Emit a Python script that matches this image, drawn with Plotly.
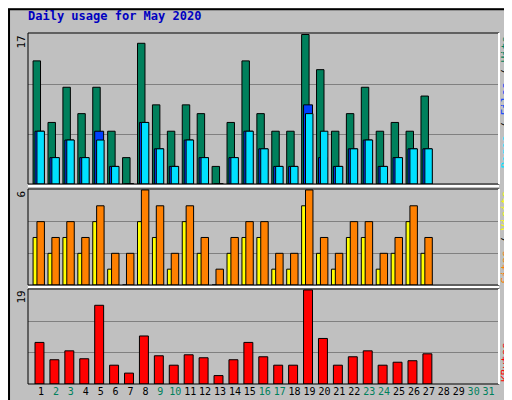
import plotly.graph_objects as go

days = list(range(1, 32))
hits   = [14,7,11,8,11,6,3,16,9,6,9,8,2,7,14,8,6,6,17,13,6,8,11,6,7,6,10]
files  = [6,3,5,3,6,2,0,7,4,2,5,3,0,3,6,4,2,2,9,3,2,4,5,2,3,4,4]
pages  = [6,3,5,3,5,2,0,7,4,2,5,3,0,3,6,4,2,2,8,6,2,4,5,2,3,4,4]
sites  = [3,2,3,2,4,1,0,4,3,1,4,2,0,2,3,3,1,1,5,2,1,3,3,1,2,4,2]
visits = [4,3,4,3,5,2,2,6,5,2,5,3,1,3,4,4,2,2,6,3,2,4,4,2,3,5,3]
kbytes = [8.4,4.9,6.7,5.1,15.9,3.8,2.2,9.7,5.7,3.8,5.9,5.3,1.7,4.9,8.4,5.5,3.8,3.8,19,9.2,3.8,5.5,6.7,3.8,4.4,4.7,6.1]
weekend = [2,3,9,10,16,17,23,24,30,31]
max_top, max_mid, max_bot = 17, 6, 19

fig = go.Figure()
xd = days[:len(hits)]
line = dict(color="black", width=1)
def bar(y, color, off, w, ax):
    fig.add_trace(go.Bar(x=xd, y=y, offset=off, width=w, marker=dict(color=color, line=line),
                         xaxis="x", yaxis=ax, showlegend=False, hoverinfo="skip"))
bar(hits, "#00805C", -0.53, 0.5, "y")
bar(files, "#0040FF", -0.4, 0.6, "y")
bar(pages, "#00E0FF", -0.27, 0.5, "y")
bar(sites, "#FFFF00", -0.53, 0.33, "y2")
bar(visits, "#FF8000", -0.27, 0.5, "y2")
bar(kbytes, "#FF0000", -0.4, 0.6, "y3")

ticktext = [f"<span style='color:{'#00805C' if d in weekend else 'black'}'>{d}</span>" for d in days]
font = dict(family="DejaVu Sans Mono", size=11, color="black")
def yax(dom, m):
    return dict(domain=dom, range=[0, m*1.01], tickvals=[m/3, 2*m/3], showticklabels=False,
                gridcolor="#808080", gridwidth=1, zeroline=False, fixedrange=True)
fig.update_layout(
    width=512, height=400, margin=dict(l=0, r=0, t=0, b=0),
    paper_bgcolor="#C0C0C0", plot_bgcolor="#C0C0C0", barmode="overlay", font=font,
    xaxis=dict(domain=[20/512, 491/512], range=[0.13, 31.7], tickvals=days, ticktext=ticktext,
               showgrid=False, ticks="", anchor="y3", tickangle=0,
               tickfont=dict(family="DejaVu Sans Mono", size=10, color="black")),
    yaxis=yax([1-176/400, 1-25/400], max_top),
    yaxis2=yax([1-277/400, 1-181/400], max_mid),
    yaxis3=yax([1-376/400, 1-281/400], max_bot),
)
shapes = [
    dict(type="rect", xref="paper", yref="paper", x0=0.002, y0=0.003, x1=0.998, y1=0.997,
         line=dict(color="black", width=2)),
    dict(type="line", xref="paper", yref="paper", x0=1-6/512, x1=1-6/512, y0=0.01, y1=0.99,
         line=dict(color="#808080", width=5), layer="below"),
    dict(type="line", xref="paper", yref="paper", x0=0.01, x1=0.99, y0=5/400, y1=5/400,
         line=dict(color="#808080", width=5), layer="below"),
]
for y0, y1 in [(176, 25), (277, 181), (376, 281)]:
    shapes.append(dict(type="rect", xref="paper", yref="paper", x0=20/512, x1=491/512,
                       y0=1-y0/400, y1=1-y1/400, line=dict(color="black", width=1)))
    shapes.append(dict(type="line", xref="paper", yref="paper", x0=491/512, x1=491/512,
                       y0=1-y0/400, y1=1-y1/400, line=dict(color="white", width=2)))
shapes.append(dict(type="line", xref="paper", yref="paper", x0=20/512, x1=491/512,
                   y0=1-178/400, y1=1-178/400, line=dict(color="white", width=2)))
shapes.append(dict(type="line", xref="paper", yref="paper", x0=20/512, x1=491/512,
                   y0=1-279/400, y1=1-279/400, line=dict(color="white", width=2)))
fig.update_layout(shapes=shapes)

ann = [dict(text="<b>Daily usage for May 2020</b>", x=18/512, y=1-8/400, xanchor="left", yanchor="middle",
            font=dict(family="DejaVu Sans Mono", size=12, color="#0000C0"))]
for txt, ytop in [(str(max_top), 26), (str(max_mid), 181), (str(max_bot), 281)]:
    ann.append(dict(text=txt, x=13/512, y=1-ytop/400, xanchor="center", yanchor="top", textangle=-90))
ann.append(dict(text="<span style='color:#00E0FF'>Pages</span><span style='color:black'> / </span><span style='color:#0040FF'>Files</span><span style='color:black'> / </span><span style='color:#00805C'>Hits</span>",
                x=497/512, y=1-26/400, xanchor="center", yanchor="top", textangle=-90))
ann.append(dict(text="<span style='color:#FF8000'>Sites</span><span style='color:black'> / </span><span style='color:#FFFF00'>Visits</span>",
                x=497/512, y=1-181/400, xanchor="center", yanchor="top", textangle=-90))
ann.append(dict(text="<span style='color:#FF0000'>KBytes</span>",
                x=497/512, y=1-376/400, xanchor="center", yanchor="bottom", textangle=-90))
for a in ann:
    a.update(xref="paper", yref="paper", showarrow=False)
    a.setdefault("font", font)
fig.update_layout(annotations=ann)
fig.write_html("out.html")
